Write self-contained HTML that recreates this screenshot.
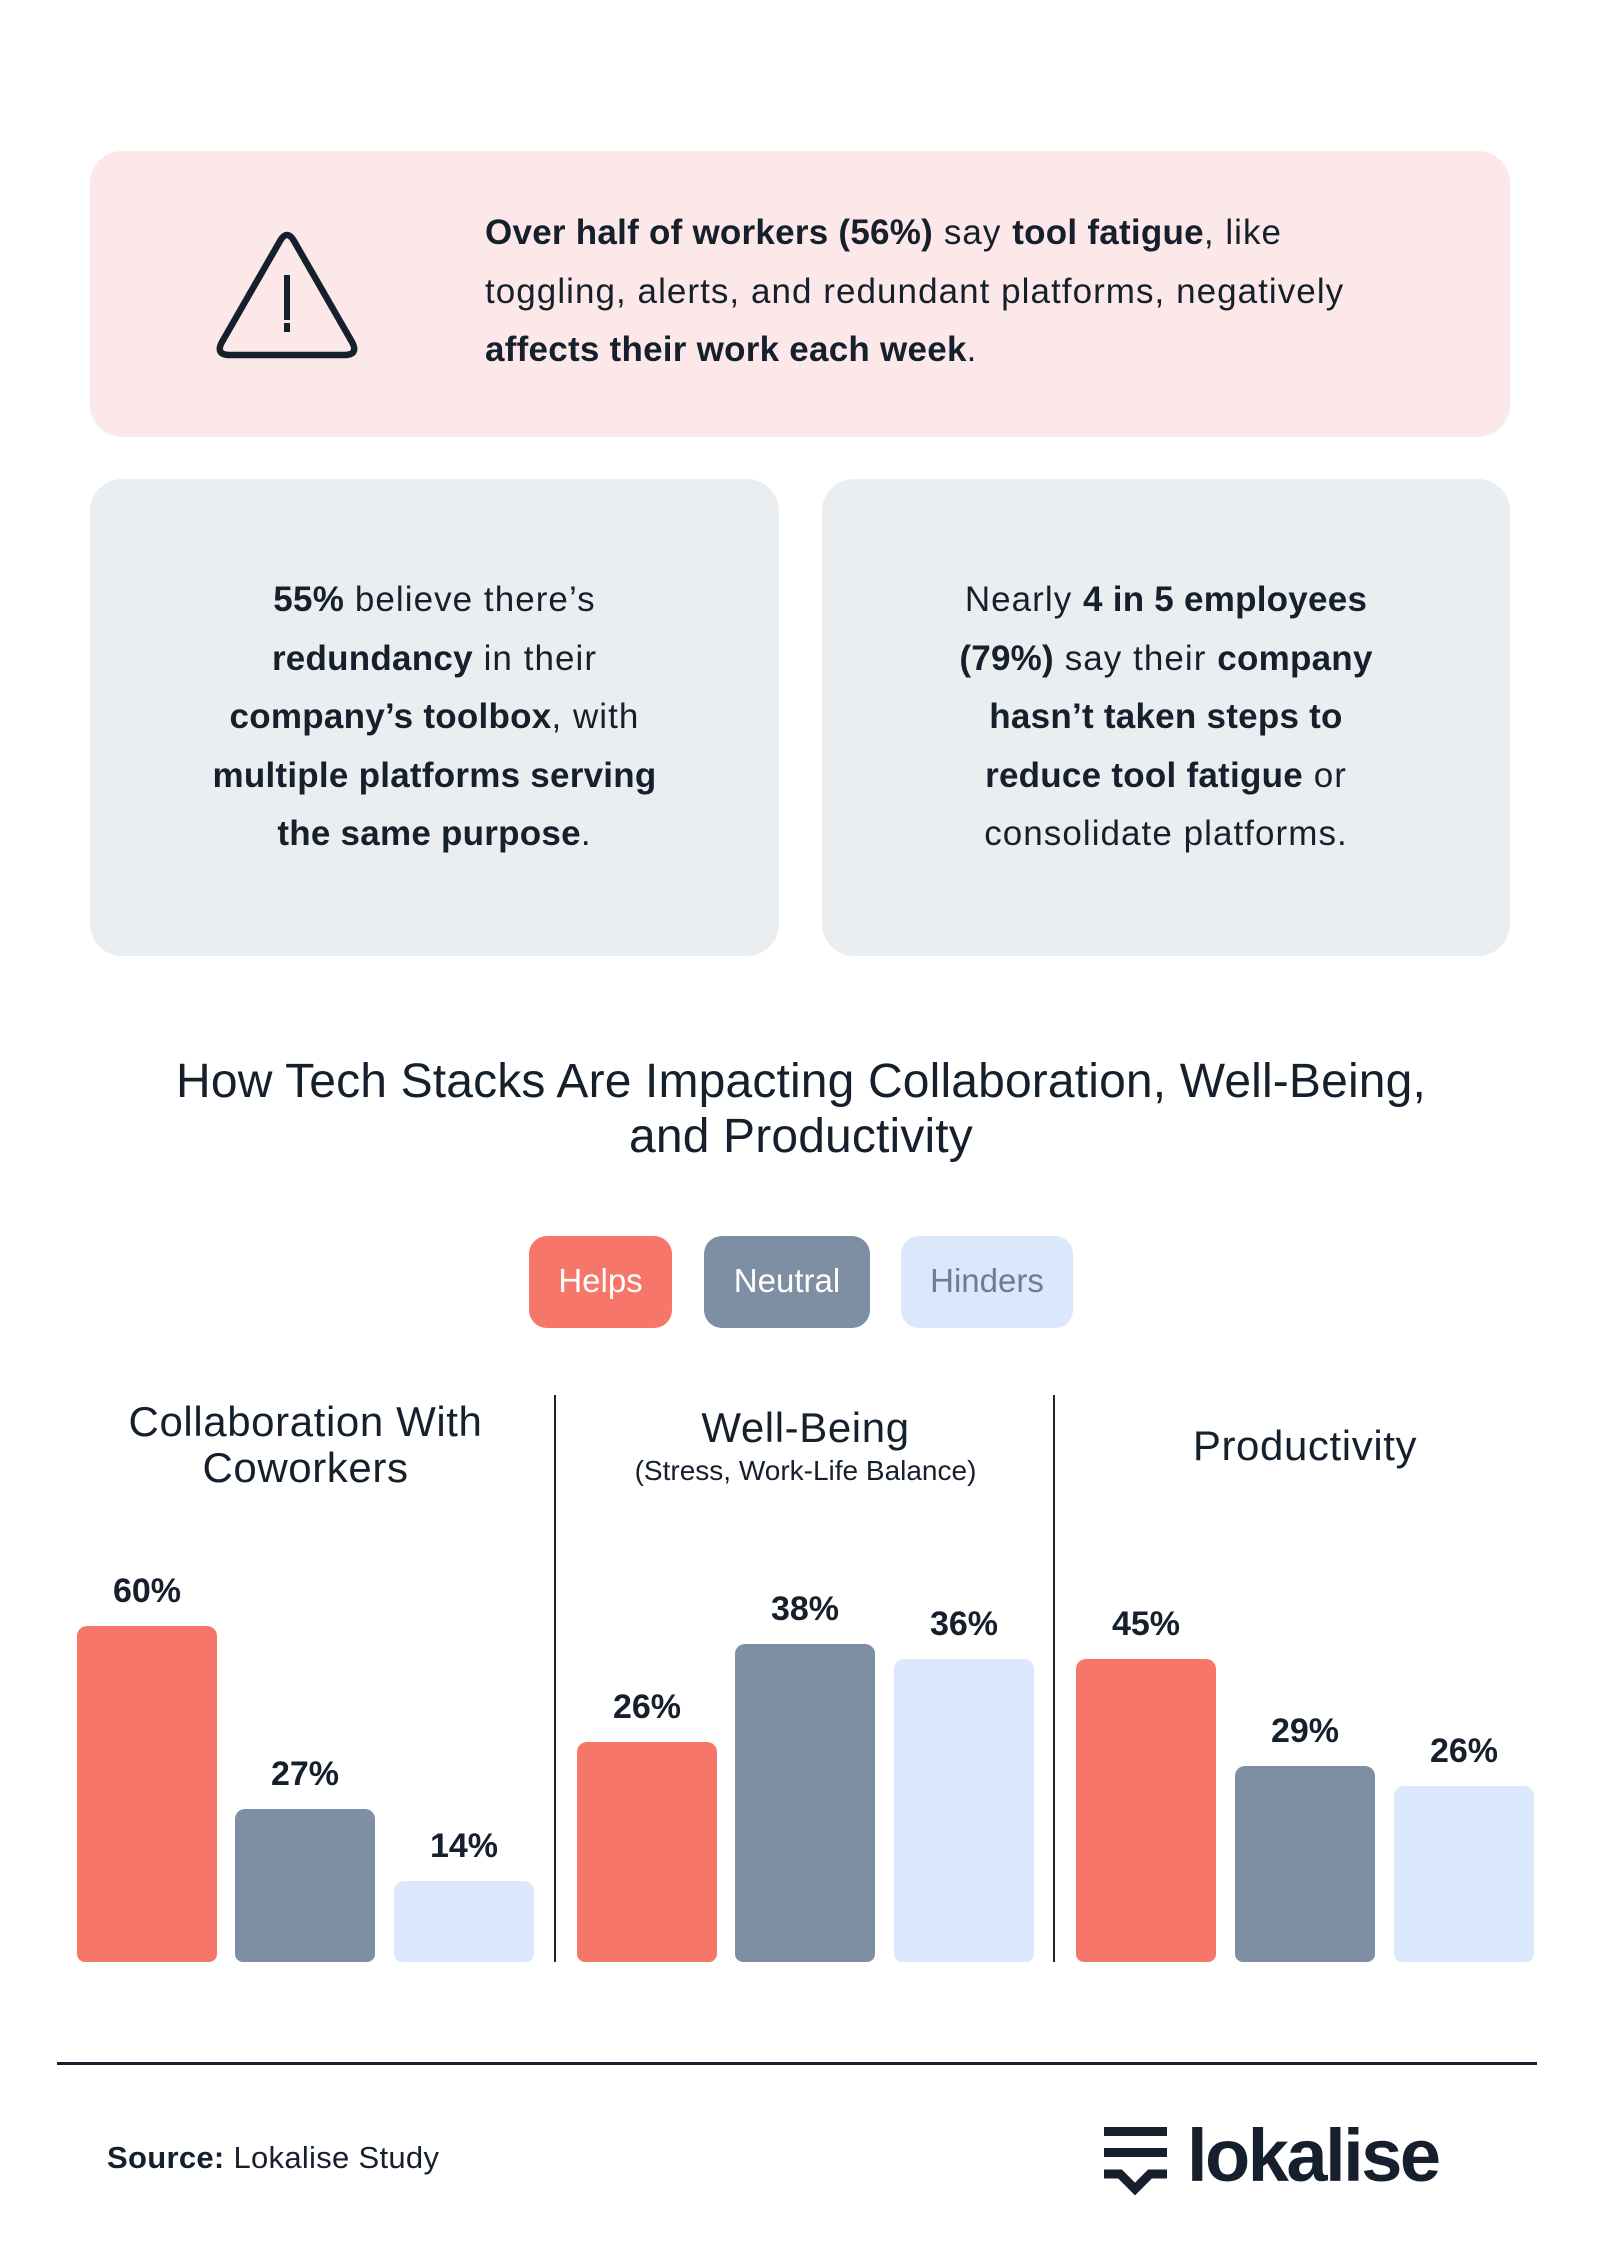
<!DOCTYPE html>
<html>
<head>
<meta charset="utf-8">
<style>
  html,body{margin:0;padding:0;background:#fff;}
  body{width:1600px;height:2260px;position:relative;overflow:hidden;font-family:"Liberation Sans",Arial,sans-serif;color:#16202c;}
  .abs{position:absolute;}
  .box{position:absolute;border-radius:32px;}
  .body35{font-size:35px;line-height:58.5px;letter-spacing:1.05px;white-space:nowrap;}
  .body35 b{letter-spacing:0.25px;font-weight:700;}
  .center{text-align:center;}
  .cat{font-size:42px;line-height:46px;letter-spacing:0.6px;text-align:center;white-space:nowrap;}
  .bar{position:absolute;width:140px;border-radius:10px 10px 8px 8px;}
  .h{background:#f7766a;}
  .n{background:#7e8fa3;}
  .d{background:#dbe8fc;}
  .lbl{position:absolute;width:140px;text-align:center;font-size:34px;line-height:40px;font-weight:700;}
  .leg{position:absolute;top:1236px;height:92px;border-radius:18px;font-size:33px;line-height:90px;text-align:center;}
  .div{position:absolute;top:1395px;width:2px;height:567px;background:#1b2430;}
</style>
</head>
<body>

<!-- pink box -->
<div class="box" style="left:90px;top:151px;width:1420px;height:286px;background:#fce8e8;"></div>
<svg class="abs" style="left:0;top:0" width="600" height="450">
  <path d="M280,241 Q287,229 294,241 L352,342 Q359,355 344,355 L230,355 Q215,355 222,342 Z" fill="none" stroke="#16202c" stroke-width="6.5" stroke-linejoin="round"/>
  <rect x="284" y="275" width="6" height="45" fill="#16202c"/>
  <rect x="284" y="323" width="6" height="9" fill="#16202c"/>
</svg>
<div class="abs body35" style="left:485px;top:204px;">
  <div><b>Over half of workers (56%)</b> say <b>tool fatigue</b>, like</div>
  <div>toggling, alerts, and redundant platforms, negatively</div>
  <div><b>affects their work each week</b>.</div>
</div>

<!-- gray boxes -->
<div class="box" style="left:90px;top:479px;width:689px;height:477px;background:#ebeef1;"></div>
<div class="box" style="left:822px;top:479px;width:688px;height:477px;background:#ebeef1;"></div>

<div class="abs body35 center" style="left:90px;width:689px;top:571px;">
  <div><b>55%</b> believe there’s</div>
  <div><b>redundancy</b> in their</div>
  <div><b>company’s toolbox</b>, with</div>
  <div><b>multiple platforms serving</b></div>
  <div><b>the same purpose</b>.</div>
</div>
<div class="abs body35 center" style="left:822px;width:688px;top:571px;">
  <div>Nearly <b>4 in 5 employees</b></div>
  <div><b>(79%)</b> say their <b>company</b></div>
  <div><b>hasn’t taken steps to</b></div>
  <div><b>reduce tool fatigue</b> or</div>
  <div>consolidate platforms.</div>
</div>

<!-- title -->
<div class="abs" style="left:0;width:1602px;top:1054px;font-size:48px;line-height:55px;letter-spacing:0.15px;text-align:center;white-space:nowrap;">
  <div>How Tech Stacks Are Impacting Collaboration, Well-Being,</div>
  <div>and Productivity</div>
</div>

<!-- legend -->
<div class="leg h" style="left:529px;width:143px;color:#fff;">Helps</div>
<div class="leg n" style="left:704px;width:166px;color:#fff;">Neutral</div>
<div class="leg d" style="left:901px;width:172px;color:#6b7d94;">Hinders</div>

<!-- category titles -->
<div class="abs cat" style="left:77px;width:457px;top:1399px;">
  <div>Collaboration With</div>
  <div>Coworkers</div>
</div>
<div class="abs cat" style="left:577px;width:457px;top:1405px;">Well-Being</div>
<div class="abs" style="left:577px;width:457px;top:1454px;font-size:28px;line-height:34px;text-align:center;white-space:nowrap;">(Stress, Work-Life Balance)</div>
<div class="abs cat" style="left:1076px;width:458px;top:1423px;">Productivity</div>

<!-- dividers -->
<div class="div" style="left:554px;"></div>
<div class="div" style="left:1053px;"></div>

<!-- bars: bottom 1962 -->
<div class="bar h" style="left:77px;top:1626px;height:336px;"></div>
<div class="lbl" style="left:77px;top:1571px;">60%</div>
<div class="bar n" style="left:235px;top:1809px;height:153px;"></div>
<div class="lbl" style="left:235px;top:1754px;">27%</div>
<div class="bar d" style="left:394px;top:1881px;height:81px;"></div>
<div class="lbl" style="left:394px;top:1826px;">14%</div>

<div class="bar h" style="left:577px;top:1742px;height:220px;"></div>
<div class="lbl" style="left:577px;top:1687px;">26%</div>
<div class="bar n" style="left:735px;top:1644px;height:318px;"></div>
<div class="lbl" style="left:735px;top:1589px;">38%</div>
<div class="bar d" style="left:894px;top:1659px;height:303px;"></div>
<div class="lbl" style="left:894px;top:1604px;">36%</div>

<div class="bar h" style="left:1076px;top:1659px;height:303px;"></div>
<div class="lbl" style="left:1076px;top:1604px;">45%</div>
<div class="bar n" style="left:1235px;top:1766px;height:196px;"></div>
<div class="lbl" style="left:1235px;top:1711px;">29%</div>
<div class="bar d" style="left:1394px;top:1786px;height:176px;"></div>
<div class="lbl" style="left:1394px;top:1731px;">26%</div>

<!-- footer -->
<div class="abs" style="left:57px;top:2062px;width:1480px;height:3px;background:#16202c;"></div>
<div class="abs" style="left:107px;top:2140px;font-size:31px;line-height:36px;letter-spacing:0.3px;white-space:nowrap;"><b>Source:</b> Lokalise Study</div>

<svg class="abs" style="left:1090px;top:2110px" width="100" height="100">
  <rect x="14" y="17" width="63" height="9" fill="#16202c"/>
  <rect x="14" y="38" width="63" height="9" fill="#16202c"/>
  <polyline points="14,64 30,64 45,79 60,64 77,64" fill="none" stroke="#16202c" stroke-width="9" stroke-linejoin="miter"/>
</svg>
<div class="abs" style="left:1187px;top:2116px;font-size:74px;line-height:80px;font-weight:700;letter-spacing:-2.5px;white-space:nowrap;">lokalise</div>

</body>
</html>
